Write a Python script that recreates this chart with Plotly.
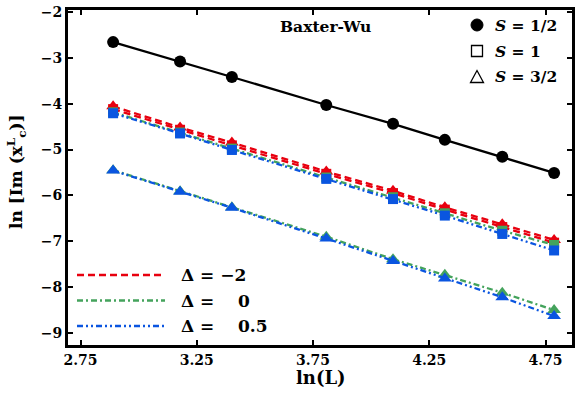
import plotly.graph_objects as go

# ---- data ----
lnL = [2.890, 3.178, 3.401, 3.807, 4.094, 4.317, 4.564, 4.787]

s_half = [-2.66, -3.08, -3.42, -4.03, -4.44, -4.79, -5.16, -5.51]

red_s1 = [-4.12, -4.57, -4.91, -5.53, -5.95, -6.31, -6.69, -7.03]
red_s32 = [-4.06, -4.52, -4.85, -5.48, -5.90, -6.26, -6.63, -6.97]

green_s1 = [-4.19, -4.63, -4.98, -5.61, -6.04, -6.39, -6.77, -7.08]
green_s32 = [-5.45, -5.91, -6.26, -6.90, -7.39, -7.73, -8.12, -8.50]

blue_s1 = [-4.21, -4.65, -5.01, -5.64, -6.08, -6.44, -6.84, -7.20]
blue_s32 = [-5.46, -5.92, -6.27, -6.94, -7.43, -7.81, -8.22, -8.63]

x_ticks = [2.75, 3.25, 3.75, 4.25, 4.75]
x_ticktext = ["2.75", "3.25", "3.75", "4.25", "4.75"]
y_ticks = [-2, -3, -4, -5, -6, -7, -8, -9]
y_ticktext = ["\u22122", "\u22123", "\u22124", "\u22125", "\u22126", "\u22127", "\u22128", "\u22129"]

delta_labels = ["\u0394 = \u22122", "\u0394 =    0", "\u0394 =    0.5"]
spin_labels = ["<i>S</i> = 1/2", "<i>S</i> = 1", "<i>S</i> = 3/2"]

RED = "#e8000f"
GREEN = "#44a35c"
BLUE = "#0a55e0"
FONT = "DejaVu Serif"

DASH_R = "7px,4px"
DASH_G = "6px,3px,2px,3px"
DASH_B = "6px,3px,2px,3px,2px,3px"

fig = go.Figure()

def add(y, color, dash, symbol, size):
    fig.add_trace(go.Scatter(
        x=lnL, y=y, mode="lines+markers",
        line=dict(color=color, width=2.3, dash=dash),
        marker=dict(symbol=symbol, size=size, color=color),
        showlegend=False, hoverinfo="skip"))

add(s_half, "black", "solid", "circle", 12)
add(red_s1, RED, DASH_R, "square", 10)
add(red_s32, RED, DASH_R, "triangle-up", 12)
add(green_s1, GREEN, DASH_G, "square", 10)
add(green_s32, GREEN, DASH_G, "triangle-up", 12)
add(blue_s1, BLUE, DASH_B, "square", 10)
add(blue_s32, BLUE, DASH_B, "triangle-up", 12)

# pixel -> paper helpers (plot area: x 68..572, y 10..345)
L, R, T, B = 68, 572, 10, 345
def px(x):
    return (x - L) / (R - L)
def py(y):
    return (B - y) / (B - T)

shapes = []
annotations = []

# bottom-left line legend
for i, (lab, col, dash) in enumerate(zip(delta_labels, [RED, GREEN, BLUE], [DASH_R, DASH_G, DASH_B])):
    yy = 275 + i * 25.5
    shapes.append(dict(type="line", xref="paper", yref="paper",
                       x0=px(77), x1=px(165), y0=py(yy), y1=py(yy),
                       line=dict(color=col, width=2.3, dash=dash)))
    annotations.append(dict(xref="paper", yref="paper", x=px(179), y=py(yy),
                            text="<b>" + lab.replace(" ", "&nbsp;") + "</b>",
                            xanchor="left", yanchor="middle", showarrow=False,
                            font=dict(family=FONT, size=17, color="black")))

# top-right marker legend
gx = 477
rows = [25, 51, 77]
shapes.append(dict(type="circle", xref="paper", yref="paper",
                   x0=px(gx - 6), x1=px(gx + 6), y0=py(rows[0] + 6), y1=py(rows[0] - 6),
                   fillcolor="black", line=dict(color="black", width=1)))
shapes.append(dict(type="rect", xref="paper", yref="paper",
                   x0=px(gx - 5.5), x1=px(gx + 5.5), y0=py(rows[1] + 5.5), y1=py(rows[1] - 5.5),
                   line=dict(color="black", width=1.3)))
tri = "M {} {} L {} {} L {} {} Z".format(px(gx - 6.5), py(rows[2] + 5.5), px(gx + 6.5), py(rows[2] + 5.5), px(gx), py(rows[2] - 6.5))
shapes.append(dict(type="path", xref="paper", yref="paper", path=tri,
                   line=dict(color="black", width=1.3)))
for lab, yy in zip(spin_labels, rows):
    annotations.append(dict(xref="paper", yref="paper", x=px(493), y=py(yy),
                            text="<b>" + lab + "</b>",
                            xanchor="left", yanchor="middle", showarrow=False,
                            font=dict(family=FONT, size=15.5, color="black")))

annotations.append(dict(xref="paper", yref="paper", x=px(325), y=py(27),
                        text="<b>Baxter-Wu</b>", xanchor="center", yanchor="middle",
                        showarrow=False, font=dict(family=FONT, size=15.5, color="black")))

# axis titles
annotations.append(dict(xref="paper", yref="paper", x=px(321), y=py(377),
                        text="<b>ln(L)</b>", xanchor="center", yanchor="middle",
                        showarrow=False, font=dict(family=FONT, size=18, color="black")))
annotations.append(dict(xref="paper", yref="paper", x=px(16), y=py(172),
                        text="<b>ln [Im (x<sup>L</sup><sub>c</sub>)]</b>", textangle=-90,
                        xanchor="center", yanchor="middle",
                        showarrow=False, font=dict(family=FONT, size=17, color="black")))

axis_common = dict(showline=True, linewidth=3, linecolor="black", mirror="ticks",
                   ticks="inside", ticklen=5, tickwidth=2, tickcolor="black",
                   showgrid=False, zeroline=False, automargin=False,
                   tickfont=dict(family=FONT, size=14, color="black"))

fig.update_layout(
    width=581, height=399,
    margin=dict(l=L, r=581 - R, t=T, b=399 - B),
    plot_bgcolor="white", paper_bgcolor="white",
    shapes=shapes, annotations=annotations,
    xaxis=dict(range=[2.696, 4.864], tickvals=x_ticks, ticktext=["<b>%s</b>" % t for t in x_ticktext],
               **axis_common),
    yaxis=dict(range=[-9.26, -1.96], tickvals=y_ticks, ticktext=["<b>%s</b>" % t for t in y_ticktext],
               **axis_common),
)

fig.write_html("out.html", config={"displayModeBar": False},
               post_script="document.body.style.margin='0';document.body.style.overflow='hidden';")
